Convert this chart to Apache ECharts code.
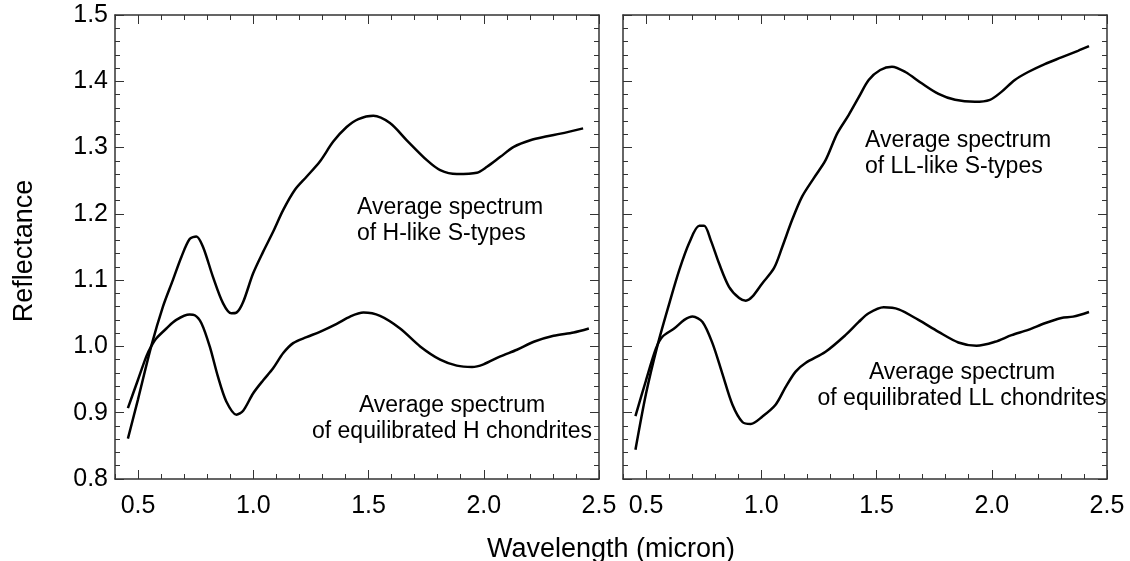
<!DOCTYPE html>
<html style="height: 100%">
<head>
    <meta charset="utf-8">
</head>
<body style="height: 100%; margin: 0; background: #fff">
<div id="container" style="width: 1130px; height: 561px"></div>
<script type="text/javascript" src="https://cdn.jsdelivr.net/npm/echarts@6/dist/echarts.min.js"></script>
<script type="text/javascript">
    // left panel: H-like S-types and H chondrites
    var hSTypeWl = [0.456, 0.499, 0.557, 0.608, 0.651, 0.688, 0.724, 0.753, 0.782, 0.825, 0.869, 0.905, 0.927, 0.956, 0.999,
        1.043, 1.086, 1.130, 1.180, 1.231, 1.289, 1.347, 1.405, 1.456, 1.521, 1.593, 1.666, 1.753, 1.811, 1.883, 1.970,
        2.014, 2.072, 2.130, 2.202, 2.275, 2.333, 2.431];
    var hSTypeRef = [0.861, 0.919, 1.000, 1.060, 1.100, 1.135, 1.162, 1.166, 1.150, 1.105, 1.065, 1.050, 1.051, 1.067, 1.110,
        1.143, 1.173, 1.206, 1.236, 1.256, 1.279, 1.309, 1.331, 1.343, 1.348, 1.337, 1.311, 1.281, 1.266, 1.260, 1.262,
        1.271, 1.286, 1.301, 1.311, 1.317, 1.321, 1.329];
    var hChondWl = [0.456, 0.499, 0.536, 0.557, 0.579, 0.623, 0.666, 0.724, 0.746, 0.775, 0.811, 0.847, 0.883, 0.927, 0.956,
        0.999, 1.043, 1.086, 1.130, 1.173, 1.231, 1.289, 1.362, 1.420, 1.478, 1.550, 1.637, 1.724, 1.811, 1.883, 1.949,
        1.999, 2.072, 2.144, 2.217, 2.303, 2.390, 2.456];
    var hChondRef = [0.907, 0.949, 0.985, 1.000, 1.012, 1.027, 1.040, 1.048, 1.047, 1.035, 1.000, 0.954, 0.917, 0.897, 0.903,
        0.929, 0.949, 0.967, 0.990, 1.005, 1.014, 1.022, 1.034, 1.045, 1.051, 1.046, 1.027, 1.000, 0.980, 0.971, 0.969,
        0.973, 0.985, 0.995, 1.007, 1.016, 1.021, 1.027];

    // right panel: LL-like S-types and LL chondrites
    var llSTypeWl = [0.454, 0.500, 0.550, 0.601, 0.644, 0.687, 0.731, 0.752, 0.781, 0.817, 0.860, 0.904, 0.933, 0.961, 1.004,
        1.055, 1.091, 1.134, 1.177, 1.228, 1.279, 1.329, 1.379, 1.423, 1.466, 1.516, 1.567, 1.625, 1.696, 1.769, 1.841,
        1.927, 1.992, 2.042, 2.100, 2.158, 2.230, 2.302, 2.374, 2.422];
    var llSTypeRef = [0.844, 0.929, 1.002, 1.065, 1.115, 1.156, 1.182, 1.182, 1.160, 1.125, 1.090, 1.073, 1.069, 1.075, 1.095,
        1.118, 1.150, 1.191, 1.226, 1.254, 1.281, 1.321, 1.349, 1.376, 1.402, 1.417, 1.422, 1.414, 1.397, 1.381, 1.372,
        1.369, 1.372, 1.384, 1.402, 1.414, 1.426, 1.436, 1.446, 1.453];
    var llChondWl = [0.454, 0.500, 0.543, 0.572, 0.622, 0.666, 0.702, 0.745, 0.788, 0.831, 0.875, 0.918, 0.954, 1.004, 1.062,
        1.106, 1.149, 1.192, 1.279, 1.365, 1.423, 1.466, 1.531, 1.596, 1.682, 1.769, 1.855, 1.934, 2.014, 2.086, 2.158,
        2.230, 2.302, 2.353, 2.422];
    var llChondRef = [0.895, 0.949, 0.997, 1.015, 1.027, 1.040, 1.045, 1.037, 1.005, 0.959, 0.912, 0.886, 0.883, 0.894, 0.912,
        0.939, 0.962, 0.975, 0.992, 1.017, 1.037, 1.050, 1.059, 1.056, 1.040, 1.022, 1.006, 1.001, 1.007, 1.017, 1.025,
        1.035, 1.043, 1.045, 1.052];

    var xMajorTicks = [0.5, 1.0, 1.5, 2.0, 2.5];
    var yMajorTicks = [0.8, 0.9, 1.0, 1.1, 1.2, 1.3, 1.4, 1.5];

    var font = 'Liberation Sans, Arial, Helvetica, sans-serif';
    var axisColor = '#333';

    function zip(xs, ys) {
        return xs.map(function (x, i) { return [x, ys[i]]; });
    }

    function onStep(v, step) {
        var k = v / step;
        return Math.abs(k - Math.round(k)) < 1e-6;
    }

    function xAxes(gridIndex) {
        var base = {gridIndex: gridIndex, type: 'value', min: 0.4, max: 2.5, splitLine: {show: false}};
        return [
            Object.assign({}, base, {
                position: 'bottom', interval: 0.1,
                axisLine: {show: true, lineStyle: {color: axisColor, width: 1.5}},
                axisTick: {inside: true, length: 5, lineStyle: {color: axisColor}},
                axisLabel: {
                    margin: 15, fontSize: 25, color: '#000', fontFamily: font,
                    formatter: function (v) { return onStep(v, 0.5) ? v.toFixed(1) : ''; }
                }
            }),
            Object.assign({}, base, {
                position: 'bottom', axisLine: {show: false}, axisLabel: {show: false},
                axisTick: {inside: true, length: 9, customValues: xMajorTicks, lineStyle: {color: axisColor}}
            }),
            Object.assign({}, base, {
                position: 'top', interval: 0.1, axisLabel: {show: false},
                axisLine: {show: true, lineStyle: {color: axisColor, width: 1.5}},
                axisTick: {inside: true, length: 5, lineStyle: {color: axisColor}}
            }),
            Object.assign({}, base, {
                position: 'top', axisLine: {show: false}, axisLabel: {show: false},
                axisTick: {inside: true, length: 9, customValues: xMajorTicks, lineStyle: {color: axisColor}}
            })
        ];
    }

    function yAxes(gridIndex, withLabels) {
        var base = {gridIndex: gridIndex, type: 'value', min: 0.8, max: 1.5, splitLine: {show: false}};
        return [
            Object.assign({}, base, {
                position: 'left', interval: 0.02,
                axisLine: {show: true, lineStyle: {color: axisColor, width: 1.5}},
                axisTick: {inside: true, length: 5, lineStyle: {color: axisColor}},
                axisLabel: {
                    show: withLabels, margin: 7, fontSize: 25, color: '#000', fontFamily: font,
                    formatter: function (v) { return onStep(v, 0.1) ? v.toFixed(1) : ''; }
                }
            }),
            Object.assign({}, base, {
                position: 'left', axisLine: {show: false}, axisLabel: {show: false},
                axisTick: {inside: true, length: 9, customValues: yMajorTicks, lineStyle: {color: axisColor}}
            }),
            Object.assign({}, base, {
                position: 'right', interval: 0.02, axisLabel: {show: false},
                axisLine: {show: true, lineStyle: {color: axisColor, width: 1.5}},
                axisTick: {inside: true, length: 5, lineStyle: {color: axisColor}}
            }),
            Object.assign({}, base, {
                position: 'right', axisLine: {show: false}, axisLabel: {show: false},
                axisTick: {inside: true, length: 9, customValues: yMajorTicks, lineStyle: {color: axisColor}}
            })
        ];
    }

    function spectrum(name, wl, ref, panel) {
        return {
            name: name, type: 'line', smooth: 0.3, showSymbol: false, symbol: 'none',
            xAxisIndex: panel * 4, yAxisIndex: panel * 4,
            lineStyle: {color: '#000', width: 2.5},
            data: zip(wl, ref)
        };
    }

    function label(text, x, y, align) {
        return {
            type: 'text', x: x, y: y, silent: true,
            style: {
                text: text, fill: '#000', font: '23px ' + font, lineHeight: 26,
                align: align, verticalAlign: 'middle', textAlign: align, textVerticalAlign: 'middle'
            }
        };
    }

    var dom = document.getElementById("container");
    var myChart = echarts.init(dom);

    var option = {
        animation: false,
        backgroundColor: '#fff',
        textStyle: {fontFamily: font},
        grid: [
            {left: 115, top: 15, width: 484, height: 464},
            {left: 623, top: 15, width: 484, height: 464}
        ],
        xAxis: xAxes(0).concat(xAxes(1)),
        yAxis: yAxes(0, true).concat(yAxes(1, false)),
        series: [
            spectrum('H-like S-types', hSTypeWl, hSTypeRef, 0),
            spectrum('H chondrites', hChondWl, hChondRef, 0),
            spectrum('LL-like S-types', llSTypeWl, llSTypeRef, 1),
            spectrum('LL chondrites', llChondWl, llChondRef, 1)
        ],
        graphic: [
            label('Average spectrum\nof H-like S-types', 357, 221, 'left'),
            label('Average spectrum\nof equilibrated H chondrites', 452, 419, 'center'),
            label('Average spectrum\nof LL-like S-types', 865, 154, 'left'),
            label('Average spectrum\nof equilibrated LL chondrites', 962, 386, 'center'),
            {
                type: 'text', x: 611, y: 550, silent: true,
                style: {text: 'Wavelength (micron)', fill: '#000', font: '27px ' + font,
                    align: 'center', verticalAlign: 'middle', textAlign: 'center', textVerticalAlign: 'middle'}
            },
            {
                type: 'text', x: 25, y: 251, rotation: Math.PI / 2, silent: true,
                style: {text: 'Reflectance', fill: '#000', font: '27px ' + font,
                    align: 'center', verticalAlign: 'middle', textAlign: 'center', textVerticalAlign: 'middle'}
            }
        ]
    };

    if (option && typeof option === "object") {
        myChart.setOption(option, true);
    }
</script>
</body>
</html>
